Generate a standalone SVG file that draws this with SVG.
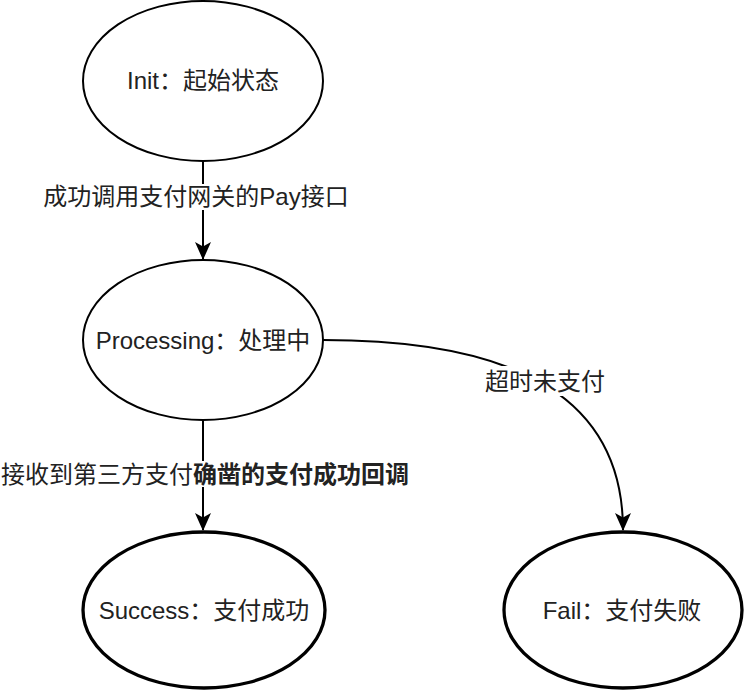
<svg xmlns="http://www.w3.org/2000/svg" width="744" height="692" viewBox="0 0 744 692">
<style>
.n{fill:#fff;stroke:#000;stroke-width:2}
.f{fill:#fff;stroke:#000;stroke-width:3.3}
.t{font-family:"Liberation Sans","Noto Sans CJK SC",sans-serif;font-size:24px;fill:#222;text-anchor:middle;dominant-baseline:central}
.e{fill:none;stroke:#000;stroke-width:2}
.bg{fill:#fff}
</style>
<defs>
<marker id="arr" markerUnits="userSpaceOnUse" viewBox="0 0 18 16" markerWidth="18" markerHeight="16" refX="17" refY="8" orient="auto">
<path d="M0,0 L18,8 L0,16 L4.5,8 Z" fill="#000"/>
</marker>
</defs>
<rect width="744" height="692" fill="#fff"/>
<g id="connectors">
<path class="e" d="M203,161 L203,259" marker-end="url(#arr)"/>
<path class="e" d="M203,420 L203,530" marker-end="url(#arr)"/>
<path class="e" d="M323,340 C502,340 623,389 623,530" marker-end="url(#arr)"/>
<rect class="bg" x="45" y="184" width="303" height="26"/>
<text class="t" x="196" y="196">成功调用支付网关的Pay接口</text>
<rect class="bg" x="2" y="461" width="406" height="26"/>
<text class="t" x="205" y="474">接收到第三方支付<tspan font-weight="bold">确凿的支付成功回调</tspan></text>
<rect class="bg" x="487" y="366" width="117" height="30"/>
<text class="t" x="545" y="381">超时未支付</text>
</g>
<g id="init">
<ellipse class="n" cx="203" cy="81" rx="120" ry="80"/>
<text class="t" x="203" y="80">Init：起始状态</text>
</g>
<g id="processing">
<ellipse class="n" cx="203" cy="340" rx="120" ry="80"/>
<text class="t" x="203" y="340">Processing：处理中</text>
</g>
<g id="success">
<ellipse class="f" cx="204" cy="610" rx="121" ry="78"/>
<text class="t" x="204" y="610">Success：支付成功</text>
</g>
<g id="fail">
<ellipse class="f" cx="623" cy="610" rx="119" ry="78"/>
<text class="t" x="622" y="610">Fail：支付失败</text>
</g>
</svg>
